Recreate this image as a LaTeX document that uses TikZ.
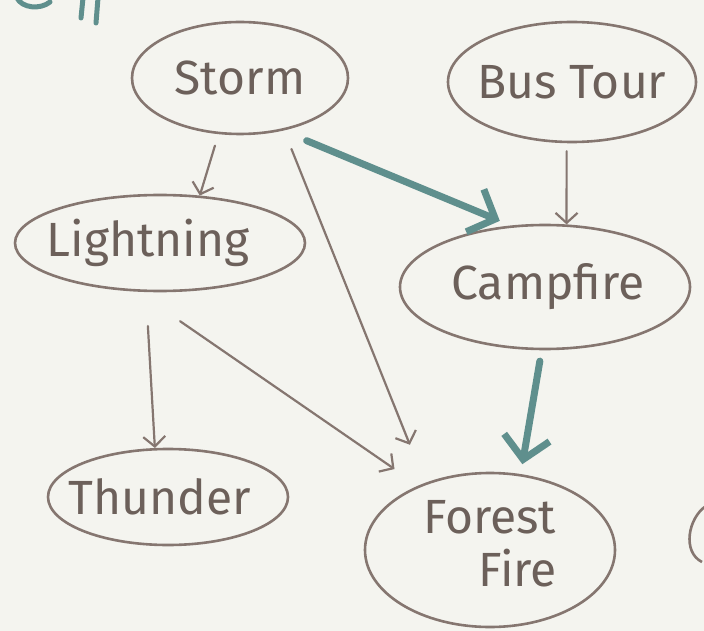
\documentclass[tikz,border=0pt]{standalone}
\usepackage{fontspec}
\setmainfont{Fira Sans}
\usetikzlibrary{shapes.geometric,arrows.meta}
\definecolor{bg}{HTML}{F4F4EF}
\definecolor{ink}{HTML}{857670}
\definecolor{txt}{HTML}{6C605A}
\definecolor{tealpen}{HTML}{5F8F8D}
\newcommand{\nt}[2][0pt]{\makebox[0pt]{\hspace*{#1}#2}}
\begin{document}
\begin{tikzpicture}[x=1pt,y=-1pt,
  bub/.style={ellipse, draw=ink, line width=2.6pt, inner sep=0pt, text=txt,
    font=\fontsize{48}{52}\selectfont},
  thinarr/.style={draw=ink, line width=2.2pt, line cap=round,
    -{Straight Barb[length=10pt,width=22pt]}},
  bigarr/.style={draw=tealpen, line width=7pt, line cap=round,
    -{Straight Barb[length=22pt,width=46pt]}},
  penmark/.style={draw=tealpen, line width=5pt, line cap=round}]
\useasboundingbox (0,0) rectangle (704,631);
\fill[bg] (0,0) rectangle (704,631);

\node[bub, minimum width=216pt, minimum height=112pt] (storm) at (240,78) {\nt{Storm}};
\node[bub, minimum width=248pt, minimum height=120pt] (bus) at (572,82) {\nt{Bus Tour}};
\node[bub, minimum width=290pt, minimum height=96pt] (light) at (160,243) {\nt[-24pt]{Lightning}};
\node[bub, minimum width=290pt, minimum height=124pt] (camp) at (545,287) {\nt[6pt]{Campfire}};
\node[bub, minimum width=240pt, minimum height=96pt] (thunder) at (168,497) {\nt[-16pt]{Thunder}};
\node[bub, minimum width=250pt, minimum height=154pt] (forest) at (490,550)
  {\nt{\begin{tabular}{@{}l@{}}Forest\\\hspace*{55pt}Fire\end{tabular}}};

\draw[thinarr, shorten <=12pt] (storm.-111) -- (light.50);
\draw[thinarr, shorten <=20pt, shorten >=41pt] (storm.-50.5) -- (forest.134);
\draw[bigarr, shorten <=26pt, shorten >=12pt] (storm.-51.7) -- (camp.119.4);
\draw[thinarr, shorten <=8pt] (bus.-95.7) -- (camp.71.1);
\draw[thinarr, shorten <=34pt] (light.-106) -- (thunder.105);
\draw[thinarr, shorten <=52pt, shorten >=29pt] (light.-115) -- (forest.138.3);
\draw[bigarr, shorten <=11pt, shorten >=10pt] (camp.-93.7) -- (forest.68.1);

% cut-off marks at the picture's edges
\draw[penmark] (17,-2) .. controls (22,8) and (40,10) .. (50,2);
\draw[penmark] (83,-2) -- (81,18);
\draw[penmark] (98,-2) -- (96,23);
\draw[draw=ink, line width=2.6pt] (706,506) .. controls (688,518) and (682,552) .. (702,562);
\end{tikzpicture}
\end{document}
